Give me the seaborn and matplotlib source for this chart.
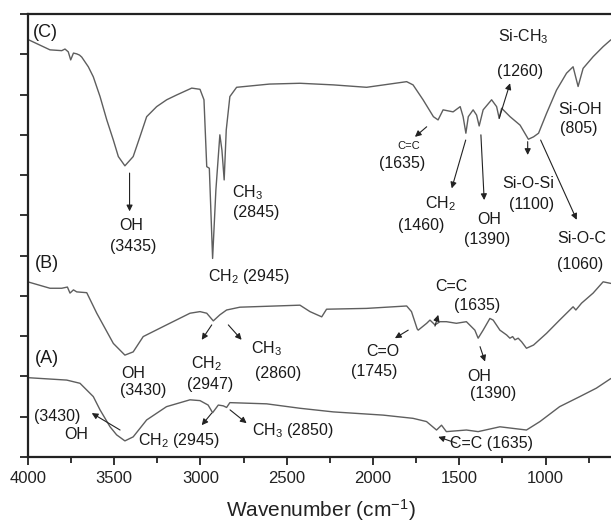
import numpy as np
import pandas as pd
import matplotlib
matplotlib.use("Agg")
import matplotlib.pyplot as plt
import seaborn as sns

# ---------------- data ----------------
wn_C = [4000, 3871, 3803, 3784, 3765, 3751, 3735, 3716, 3700, 3687, 3649, 3620, 3581, 3542, 3504,
        3475, 3437, 3389, 3350, 3311, 3253, 3195, 3137, 3050, 3002, 2979, 2963, 2948, 2929, 2910,
        2887, 2875, 2862, 2850, 2829, 2790, 2600, 2423, 2230, 2037, 1805, 1768, 1710, 1650, 1623,
        1594, 1536, 1495, 1478, 1462, 1448, 1420, 1400, 1385, 1362, 1313, 1284, 1269, 1255, 1206,
        1148, 1100, 1070, 1041, 995, 937, 879, 841, 812, 783, 725, 667, 622]
y_C = [10.37, 10.11, 10.09, 10.13, 10.06, 9.86, 10.03, 10.01, 9.98, 9.93, 9.69, 9.44, 8.95, 8.37, 7.87,
       7.46, 7.23, 7.46, 7.95, 8.45, 8.70, 8.87, 8.99, 9.16, 9.13, 8.87, 7.21, 7.17, 4.93, 6.63,
       8.00, 7.62, 6.88, 8.12, 8.95, 9.18, 9.26, 9.28, 9.24, 9.18, 9.32, 9.24, 8.87, 8.45, 8.37,
       8.62, 8.57, 8.70, 8.45, 8.04, 8.45, 8.62, 8.49, 8.22, 8.62, 8.87, 8.70, 8.41, 8.66, 8.45,
       8.24, 7.89, 7.95, 8.04, 8.53, 9.11, 9.53, 9.69, 9.20, 9.65, 9.94, 10.19, 10.36]

wn_B = [4000, 3871, 3803, 3770, 3755, 3735, 3716, 3658, 3600, 3504, 3437, 3389, 3331, 3196,
        3060, 3002, 2963, 2925, 2887, 2848, 2771, 2423, 2365, 2297, 2269, 2037, 1805, 1777,
        1744, 1738, 1689, 1670, 1641, 1612, 1575, 1517, 1459, 1410, 1391, 1362, 1323, 1304,
        1265, 1226, 1207, 1191, 1178, 1159, 1139, 1111, 1070, 995, 919, 841, 825, 792, 725,
        667, 622]
y_B = [4.35, 4.19, 4.19, 4.22, 4.07, 4.15, 4.10, 4.08, 3.57, 2.82, 2.53, 2.61, 2.99, 3.28,
       3.57, 3.61, 3.57, 3.38, 3.53, 3.65, 3.72, 3.77, 3.61, 3.48, 3.67, 3.69, 3.75, 3.61,
       3.18, 3.15, 3.32, 3.40, 3.28, 3.36, 3.36, 3.32, 3.36, 3.15, 2.95, 3.15, 3.44, 3.40,
       3.15, 3.03, 2.95, 2.99, 2.91, 2.95, 2.86, 2.70, 2.78, 3.07, 3.40, 3.73, 3.65, 3.82, 4.07,
       4.35, 4.31]

wn_A = [4000, 3774, 3697, 3620, 3581, 3523, 3485, 3437, 3389, 3311, 3196, 3060, 3002, 2955,
        2929, 2896, 2867, 2848, 2829, 2616, 2423, 2230, 1941, 1768, 1690, 1632, 1603, 1575,
        1459, 1391, 1265, 1111, 1033, 919, 802, 706, 622]
y_A = [1.97, 1.91, 1.83, 1.50, 1.17, 0.75, 0.55, 0.40, 0.50, 0.92, 1.25, 1.42, 1.40, 1.29,
       1.10, 1.29, 1.27, 1.23, 1.35, 1.32, 1.21, 1.12, 1.04, 0.96, 0.88, 0.67, 0.79, 0.63,
       0.67, 0.63, 0.75, 0.67, 0.88, 1.25, 1.50, 1.71, 1.95]

x_ticks = [4000, 3500, 3000, 2500, 2000, 1500, 1000]
x_tick_labels = ["4000", "3500", "3000", "2500", "2000", "1500", "1000"]

# ---------------- style ----------------
sns.set_theme(style="ticks")
plt.rcParams["font.family"] = ["Liberation Sans", "DejaVu Sans"]
plt.rcParams["mathtext.fontset"] = "custom"
plt.rcParams["mathtext.rm"] = "Liberation Sans"
plt.rcParams["mathtext.it"] = "Liberation Sans"
plt.rcParams["mathtext.default"] = "regular"

fig = plt.figure(figsize=(6.11, 5.26), dpi=100)
ax = fig.add_axes([27.7 / 611, 1 - 457 / 526, (614.7 - 27.7) / 611, (457 - 14) / 526])

df = pd.concat([
    pd.DataFrame({"wn": wn_A, "T": y_A, "s": "A"}),
    pd.DataFrame({"wn": wn_B, "T": y_B, "s": "B"}),
    pd.DataFrame({"wn": wn_C, "T": y_C, "s": "C"}),
])
line_col = "#5e5e5e"
for s in ["A", "B", "C"]:
    sns.lineplot(data=df[df.s == s], x="wn", y="T", ax=ax, color=line_col,
                 linewidth=1.0, estimator=None, sort=False, legend=False)

ax.set_xlim(4000, 600)
ax.set_ylim(0, 11)
ax.set_xticks(x_ticks)
ax.set_xticklabels(x_tick_labels, fontsize=12)
ax.set_xticks(np.arange(3750, 600, -500), minor=True)
ax.set_yticks(np.arange(0, 12, 1))
ax.set_yticklabels([])
ax.tick_params(axis="x", which="major", direction="out", length=6, width=1.3, pad=4, colors="#222")
ax.tick_params(axis="x", which="minor", direction="out", length=4, width=1.3, colors="#222")
ax.tick_params(axis="y", direction="out", length=6, width=1.3, colors="#222")
for sp in ["left", "bottom", "top"]:
    ax.spines[sp].set_linewidth(1.6)
    ax.spines[sp].set_color("#222")
ax.spines["right"].set_visible(False)
ax.set_xlabel(r"Wavenumber (cm$^{-1}$)", fontsize=15, labelpad=8, color="#222")
ax.set_ylabel("")

tc = "#1a1a1a"
fs = 11.5
ap = dict(arrowstyle="-|>", color="#222", lw=0.8, mutation_scale=9, shrinkA=0, shrinkB=0)

def txt(x, y, s, size=fs, ha="center"):
    ax.text(x, y, s, fontsize=size, ha=ha, va="center", color=tc)

def arr(x0, y0, x1, y1):
    ax.annotate("", xy=(x1, y1), xytext=(x0, y0), arrowprops=ap)

# panel labels
txt(3968, 10.54, "(C)", size=13, ha="left")
txt(3958, 4.81, "(B)", size=13, ha="left")
txt(3958, 2.45, "(A)", size=13, ha="left")

# ---- C ----
arr(3410, 7.05, 3410, 6.1)
txt(3398, 5.76, "OH")
txt(3388, 5.22, "(3435)")
txt(2815, 6.56, r"CH$_3$", ha="left")
txt(2810, 6.06, "(2845)", ha="left")
txt(2956, 4.49, r"CH$_2$ (2945)", ha="left")
arr(1689, 8.20, 1757, 7.95)
txt(1791, 7.71, "C=C", size=8)
txt(1834, 7.30, "(1635)")
arr(1463, 7.87, 1544, 6.67)
txt(1608, 6.30, r"CH$_2$")
txt(1722, 5.74, "(1460)")
arr(1375, 8.00, 1356, 6.38)
txt(1328, 5.89, "OH")
txt(1341, 5.39, "(1390)")
arr(1269, 8.41, 1206, 9.28)
txt(1131, 10.44, r"Si-CH$_3$")
txt(1148, 9.57, "(1260)")
arr(1104, 7.83, 1104, 7.50)
txt(1101, 6.78, "Si-O-Si")
txt(1083, 6.28, "(1100)")
arr(1029, 7.87, 820, 5.89)
txt(791, 5.43, "Si-O-C")
txt(801, 4.77, "(1060)")
txt(801, 8.62, "Si-OH")
txt(807, 8.16, "(805)")

# ---- B ----
txt(3390, 2.08, "OH")
txt(3332, 1.66, "(3430)")
arr(2934, 3.28, 2992, 2.91)
txt(2963, 2.33, r"CH$_2$")
txt(2944, 1.79, "(2947)")
arr(2838, 3.28, 2761, 2.91)
txt(2617, 2.70, r"CH$_3$")
txt(2550, 2.08, "(2860)")
arr(1796, 3.15, 1873, 2.95)
txt(1942, 2.61, "C=O")
txt(1994, 2.12, "(1745)")
arr(1641, 3.25, 1622, 3.53)
txt(1545, 4.23, "C=C")
txt(1395, 3.77, "(1635)")
arr(1380, 2.74, 1351, 2.37)
txt(1386, 1.99, "OH")
txt(1305, 1.58, "(1390)")

# ---- A ----
txt(3827, 1.00, "(3430)")
txt(3720, 0.55, "OH")
arr(3465, 0.67, 3629, 1.09)
txt(3359, 0.42, r"CH$_2$ (2945)", ha="left")
arr(2934, 1.09, 2992, 0.79)
txt(2703, 0.67, r"CH$_3$ (2850)", ha="left")
arr(2828, 1.17, 2732, 0.84)
txt(1554, 0.34, "C=C (1635)", ha="left")
arr(1515, 0.34, 1622, 0.50)

fig.savefig("out.png", dpi=100)
